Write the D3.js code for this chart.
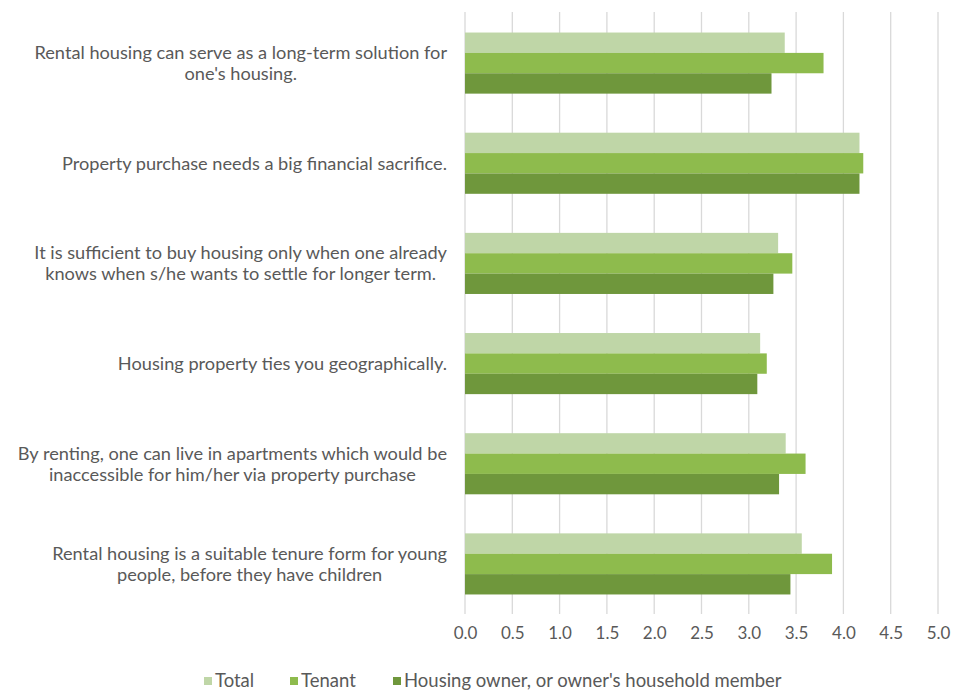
<!DOCTYPE html>
<html>
<head>
<meta charset="utf-8">
<script src="https://cdn.jsdelivr.net/npm/d3@7"></script>
<style>
  html, body { margin: 0; padding: 0; background: #ffffff; }
  svg { display: block; font-family: Lato, "Open Sans", sans-serif; }
</style>
</head>
<body>
<svg id="chart" width="958" height="693"></svg>
<script>
// Statements (top to bottom), each split into its display lines
const categories = [
  ["Rental housing can serve as a long-term solution for", "one's housing."],
  ["Property purchase needs a big financial sacrifice."],
  ["It is sufficient to buy housing only when one already", "knows when s/he wants to settle for longer term."],
  ["Housing property ties you geographically."],
  ["By renting, one can live in apartments which would be", "inaccessible for him/her via property purchase"],
  ["Rental housing is a suitable tenure form for young", "people, before they have children"]
];

const seriesNames = ["Total", "Tenant", "Housing owner, or owner's household member"];

// Mean agreement score per statement
const totalValues  = [3.38, 4.17, 3.31, 3.12, 3.39, 3.56];
const tenantValues = [3.79, 4.21, 3.46, 3.19, 3.60, 3.88];
const ownerValues  = [3.24, 4.17, 3.26, 3.09, 3.32, 3.44];

const tickValues = [0, 0.5, 1, 1.5, 2, 2.5, 3, 3.5, 4, 4.5, 5];

const colors = ["#bfd6a7", "#8ebb4d", "#6f973c"];
const textColor = "#595959";

const svg = d3.select("#chart");

const x = d3.scaleLinear().domain([0, 5]).range([465, 938]);
const keys = categories.map((c, i) => "c" + i);
const y = d3.scaleBand().domain(keys).range([13, 614])
  .paddingInner(0.39).paddingOuter(0.195);
const ySub = d3.scaleBand().domain(seriesNames).range([0, y.bandwidth()]);

const seriesValues = [totalValues, tenantValues, ownerValues];

// Vertical gridlines
svg.append("g")
  .selectAll("line")
  .data(tickValues)
  .join("line")
  .attr("x1", d => x(d)).attr("x2", d => x(d))
  .attr("y1", 12).attr("y2", 614)
  .attr("stroke", "#d9d9d9")
  .attr("stroke-width", 1.3);

// Bars
const groups = svg.append("g")
  .selectAll("g")
  .data(keys)
  .join("g")
  .attr("transform", k => `translate(0,${y(k)})`);

groups.selectAll("rect")
  .data((k, i) => seriesNames.map((s, j) => ({ s, j, v: seriesValues[j][i] })))
  .join("rect")
  .attr("x", x(0))
  .attr("y", d => ySub(d.s))
  .attr("width", d => x(d.v) - x(0))
  .attr("height", ySub.bandwidth())
  .attr("fill", d => colors[d.j]);

// Category labels: block right-aligned, lines centred within the block
const labelRight = 447;
const lineGap = 21;
const labelG = svg.append("g")
  .attr("font-size", 18.2)
  .attr("fill", textColor);

categories.forEach((lines, i) => {
  const cy = y(keys[i]) + y.bandwidth() / 2;
  const g = labelG.append("g");
  const texts = lines.map((t, li) =>
    g.append("text")
      .attr("y", cy + (li - (lines.length - 1) / 2) * lineGap)
      .attr("dy", "0.35em")
      .attr("text-anchor", "middle")
      .text(t));
  const maxW = d3.max(texts, t => t.node().getComputedTextLength());
  texts.forEach(t => t.attr("x", labelRight - maxW / 2));
});

// X axis tick labels
const xAxis = d3.axisBottom(x)
  .tickValues(tickValues)
  .tickFormat(d3.format(".1f"))
  .tickSize(0)
  .tickPadding(0);

const axG = svg.append("g")
  .attr("transform", "translate(0,627)")
  .call(xAxis);
axG.select(".domain").remove();
axG.selectAll("text")
  .attr("font-family", "Lato, 'Open Sans', sans-serif")
  .attr("font-size", 17)
  .attr("fill", textColor);

// Legend
const legendItems = [
  { name: seriesNames[0], x: 204 },
  { name: seriesNames[1], x: 290 },
  { name: seriesNames[2], x: 393 }
];
const legend = svg.append("g").attr("font-size", 18.5).attr("fill", textColor);
legendItems.forEach((d, i) => {
  legend.append("rect")
    .attr("x", d.x).attr("y", 677)
    .attr("width", 8).attr("height", 8)
    .attr("fill", colors[i]);
  legend.append("text")
    .attr("x", d.x + 11).attr("y", 681)
    .attr("dy", "0.35em")
    .text(d.name);
});
</script>
</body>
</html>
